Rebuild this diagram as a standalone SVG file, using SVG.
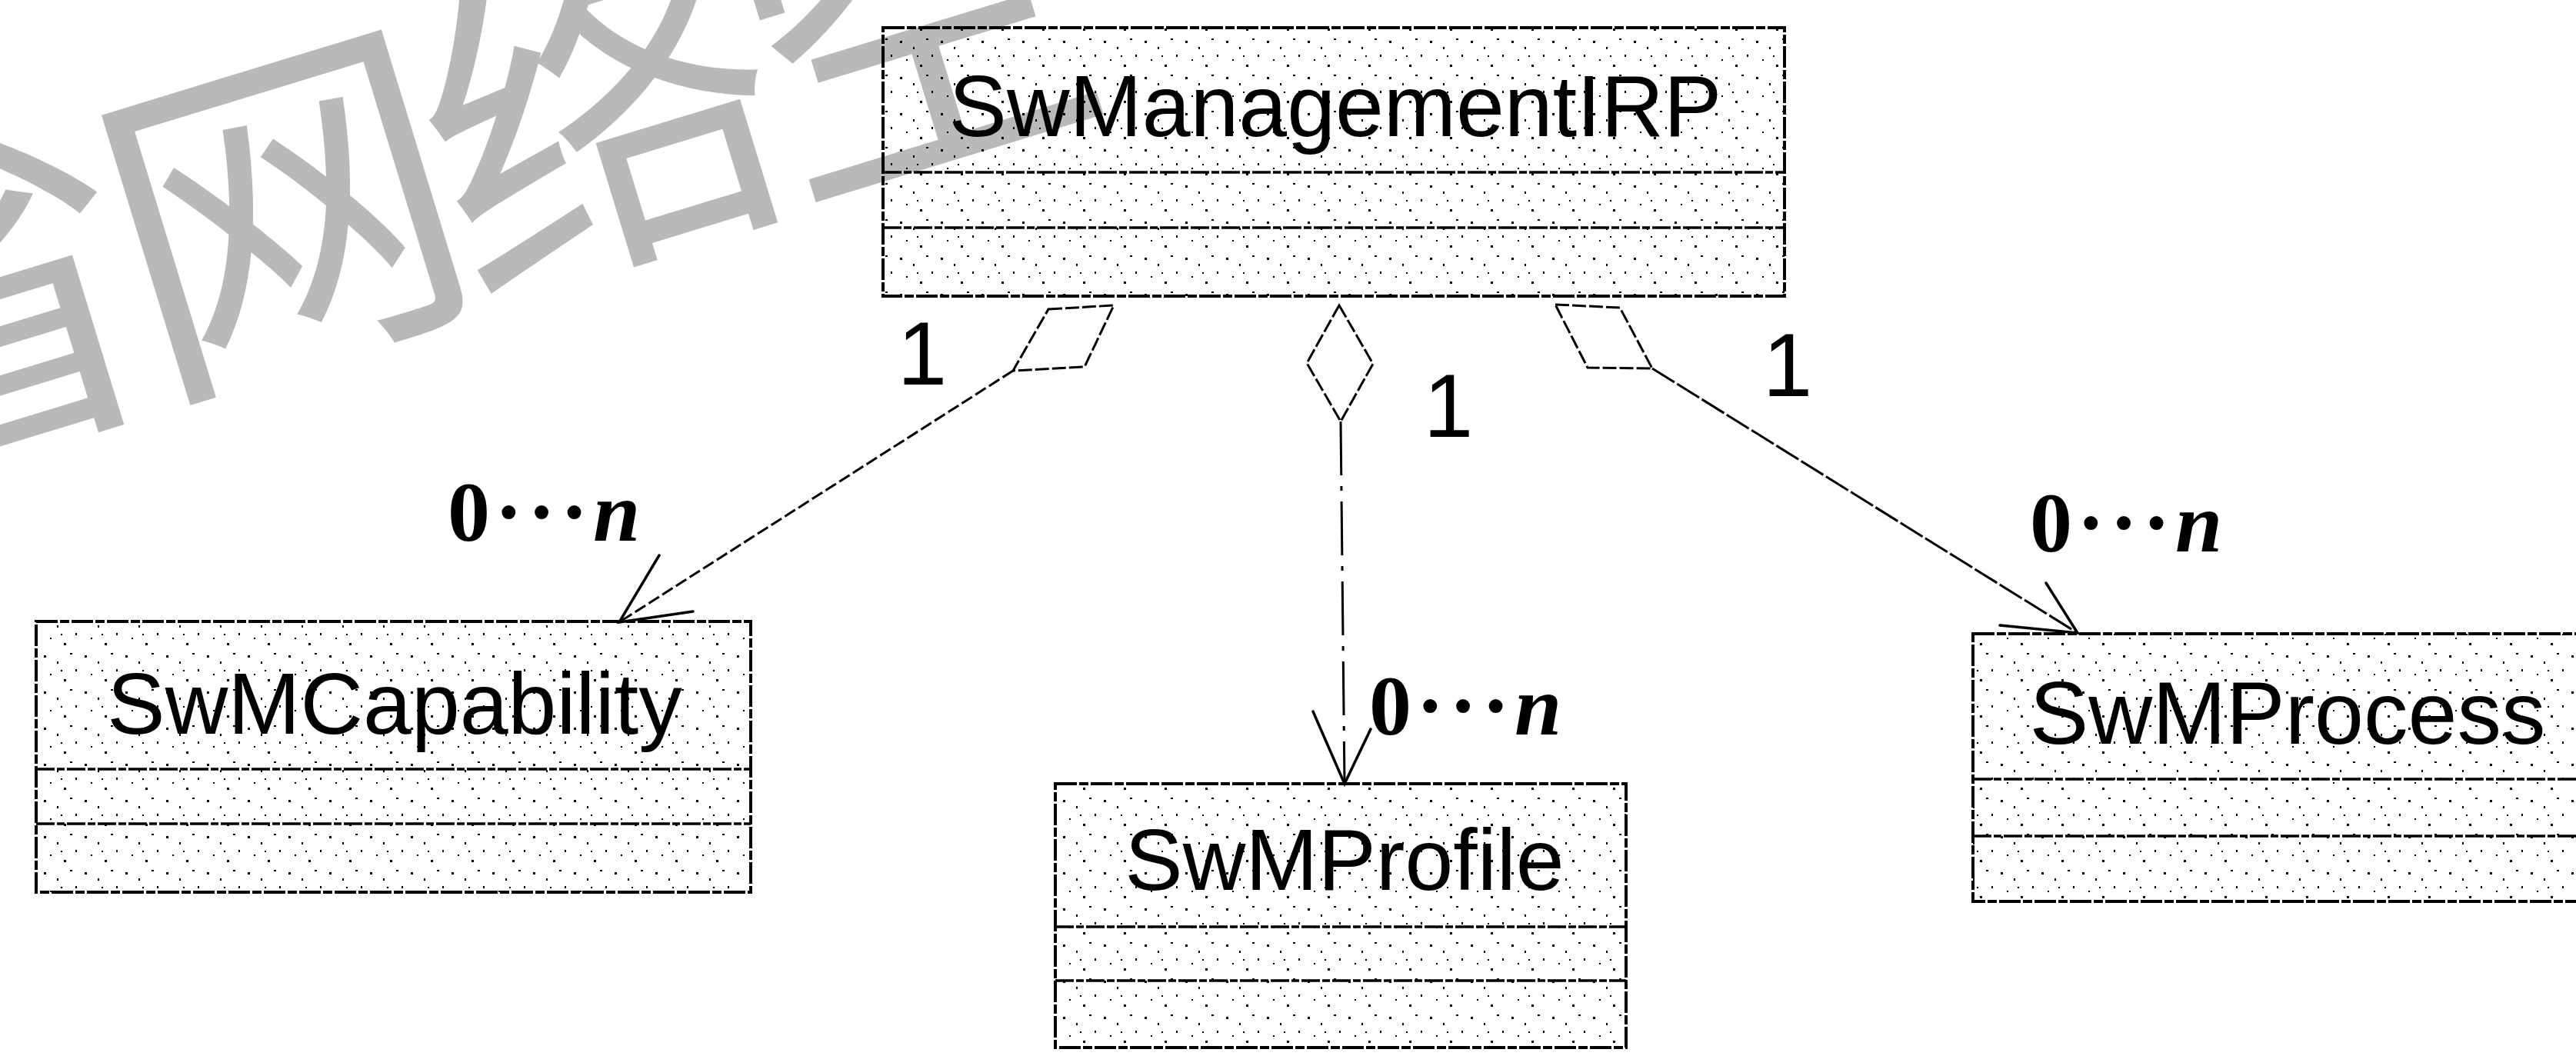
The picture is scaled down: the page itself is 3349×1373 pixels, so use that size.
<svg xmlns="http://www.w3.org/2000/svg" width="3349" height="1373" viewBox="0 0 3349 1373">
<style>
.wm{font-family:"Noto Sans CJK SC","Noto Sans CJK JP",sans-serif;font-size:460px;fill:#b9b9b9;letter-spacing:-30px}
.box{fill:url(#speck);stroke:#000;stroke-width:4;stroke-dasharray:28 3 12 3}
.div{stroke:#000;stroke-width:3.5;stroke-dasharray:24 3 10 3;fill:none}
.name{font-family:"Liberation Sans",Arial,sans-serif;font-size:113px;fill:#000;text-anchor:middle}
.one{font-family:"Liberation Sans",Arial,sans-serif;font-size:116px;fill:#000;text-anchor:middle}
.mult{font-family:"Liberation Serif","Times New Roman",serif;font-size:110px;font-weight:bold;fill:#000;letter-spacing:6px}
.mult tspan{font-style:italic}
.dia{fill:none;stroke:#000;stroke-width:3;stroke-dasharray:18 4}
.ln{fill:none;stroke:#000;stroke-width:3}
.l1{stroke-dasharray:16 5}
.l2{stroke-dasharray:70 14 6 14}
.l3{stroke-dasharray:34 4}
.barb{fill:none;stroke:#000;stroke-width:3.5;stroke-linecap:round}
</style>
<defs>
<pattern id="speck" width="53" height="47" patternUnits="userSpaceOnUse">
<rect x="4" y="6" width="3" height="3" fill="#000"/>
<rect x="21" y="14" width="2" height="3" fill="#000"/>
<rect x="38" y="3" width="3" height="2" fill="#000"/>
<rect x="12" y="30" width="2" height="2" fill="#000"/>
<rect x="30" y="37" width="3" height="3" fill="#000"/>
<rect x="45" y="24" width="2" height="3" fill="#000"/>
<rect x="26" y="25" width="2" height="2" fill="#000"/>
</pattern>
</defs>
<rect width="3349" height="1373" fill="#fff"/>
<g id="watermark" transform="translate(367,270) rotate(-17)">
<text class="wm" x="-660" y="175">省网络空</text>
</g>
<g id="connectors">
<polygon class="dia" points="1363,402 1448,397 1410,477 1317,482"/>
<path class="ln l1" d="M1317,482 L805,809"/>
<path class="barb" d="M857,722 L805,809 L901,795"/>
<polygon class="dia" points="1741,397 1785,473 1743,548 1699,472"/>
<path class="ln l2" d="M1743,548 L1748,1019"/>
<path class="barb" d="M1707,925 L1748,1019 L1782,948"/>
<polygon class="dia" points="2022,396 2106,400 2148,479 2064,478"/>
<path class="ln l3" d="M2148,479 L2701,823"/>
<path class="barb" d="M2660,758 L2701,823 L2600,813"/>
<text class="one" x="1199" y="500">1</text>
<text class="one" x="1883" y="568">1</text>
<text class="one" x="2324" y="515">1</text>
<text class="mult" x="582" y="703">0···<tspan>n</tspan></text>
<text class="mult" x="1780" y="955">0···<tspan>n</tspan></text>
<text class="mult" x="2639" y="717">0···<tspan>n</tspan></text>
</g>
<g id="SwManagementIRP">
<rect class="box" x="1148" y="36" width="1172" height="349"/>
<path class="div" d="M1148,224 H2320 M1148,296 H2320"/>
<text class="name" x="1736" y="177">SwManagementIRP</text>
</g>
<g id="SwMCapability">
<rect class="box" x="47" y="808" width="929" height="352"/>
<path class="div" d="M47,1000 H976 M47,1071 H976"/>
<text class="name" x="513" y="954">SwMCapability</text>
</g>
<g id="SwMProfile">
<rect class="box" x="1372" y="1019" width="742" height="343"/>
<path class="div" d="M1372,1205 H2114 M1372,1275 H2114"/>
<text class="name" x="1748" y="1157">SwMProfile</text>
</g>
<g id="SwMProcess">
<rect class="box" x="2565" y="824" width="800" height="348"/>
<path class="div" d="M2565,1013 H3365 M2565,1087 H3365"/>
<text class="name" x="2974" y="967" style="font-size:115px">SwMProcess</text>
</g>
</svg>
